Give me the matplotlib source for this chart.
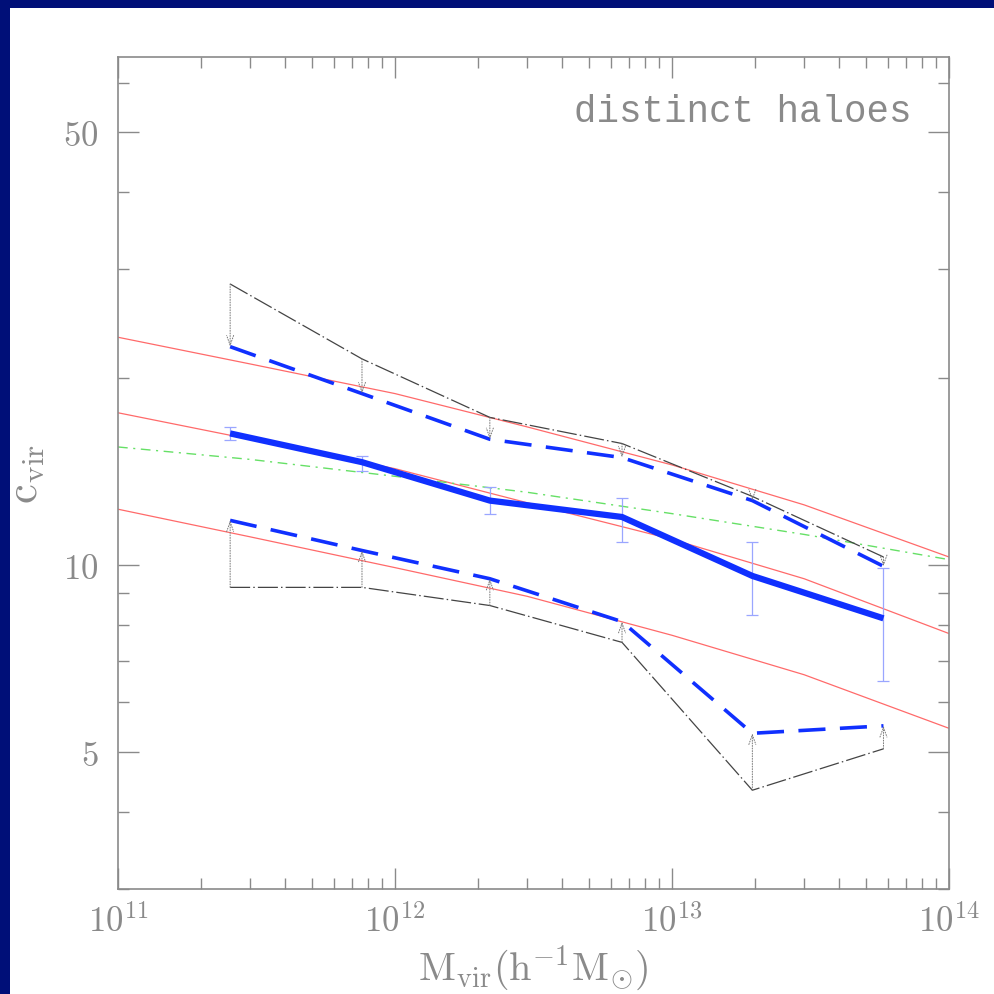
import matplotlib
matplotlib.use("Agg")
import matplotlib.pyplot as plt
from matplotlib.patches import Rectangle
from matplotlib.ticker import FixedLocator, NullFormatter, FixedFormatter

# simulation bins
mass = [2.54e11, 7.6e11, 2.2e12, 6.6e12, 1.95e13, 5.8e13]
c_median = [16.3, 14.65, 12.7, 11.95, 9.6, 8.2]
err_hi = [16.7, 15.0, 13.35, 12.8, 10.9, 9.9]
err_lo = [15.9, 14.2, 12.1, 10.9, 8.3, 6.5]
c_up_blue = [22.5, 18.9, 15.95, 14.9, 12.7, 9.95]
c_up_black = [28.4, 21.5, 17.3, 15.7, 12.9, 10.3]
c_lo_blue = [11.8, 10.55, 9.5, 8.1, 5.35, 5.5]
c_lo_black = [9.2, 9.2, 8.6, 7.5, 4.33, 5.05]

# model curves
model_mass = [1e11, 3e11, 1e12, 3e12, 1e13, 3e13, 1e14]
model_hi = [23.3, 21.1, 18.9, 16.7, 14.5, 12.5, 10.3]
model_med = [17.6, 15.95, 14.3, 12.6, 11.0, 9.5, 7.75]
model_lo = [12.3, 11.1, 9.9, 8.9, 7.7, 6.65, 5.45]
model_green = [15.5, 14.8, 13.9, 13.1, 12.1, 11.2, 10.2]

xtick_labels = [r'$10^{11}$', r'$10^{12}$', r'$10^{13}$', r'$10^{14}$']
ytick_labels = [r'$5$', r'$10$', r'$50$']

plt.rcParams['mathtext.fontset'] = 'cm'
plt.rcParams['font.family'] = ['DejaVu Serif']

gray = '#8a8a8a'
fig = plt.figure(figsize=(9.94, 9.95), dpi=100, facecolor='#000f78')
fig.patches.append(Rectangle((10 / 994, 0), 1, 1 - 9 / 995, transform=fig.transFigure,
                             facecolor='white', edgecolor='none', zorder=-10))
ax = fig.add_axes([118 / 994, 105 / 995, 831 / 994, 832 / 995])

ax.plot(model_mass, model_hi, color='#ff6a6a', lw=0.9)
ax.plot(model_mass, model_med, color='#ff6a6a', lw=0.9)
ax.plot(model_mass, model_lo, color='#ff6a6a', lw=0.9)
ax.plot(model_mass, model_green, color='#66e066', lw=1.0, dashes=(7, 4, 1.5, 4))

ax.plot(mass, c_up_black, color='#444444', lw=0.9, dashes=(16, 2.5, 1.2, 2.5))
ax.plot(mass, c_lo_black, color='#444444', lw=0.9, dashes=(16, 2.5, 1.2, 2.5))
ax.plot(mass, c_up_blue, color='#1030ff', lw=2.6, dashes=(7.5, 4))
ax.plot(mass, c_lo_blue, color='#1030ff', lw=2.6, dashes=(7.5, 4))

yerr = [[m - lo for m, lo in zip(c_median, err_lo)], [hi - m for m, hi in zip(c_median, err_hi)]]
ax.errorbar(mass, c_median, yerr=yerr, fmt='none', ecolor='#9aa6ff', elinewidth=0.9,
            capsize=4, capthick=0.9)
ax.plot(mass, c_median, color='#1030ff', lw=4.5, solid_capstyle='butt')

for m, a, b in zip(mass, c_up_black, c_up_blue):
    ax.annotate('', xy=(m, b), xytext=(m, a),
                arrowprops=dict(arrowstyle='->,head_length=0.7,head_width=0.25',
                                linestyle=':', color='#777777', lw=0.7, shrinkA=0, shrinkB=0))
for m, a, b in zip(mass, c_lo_black, c_lo_blue):
    ax.annotate('', xy=(m, b), xytext=(m, a),
                arrowprops=dict(arrowstyle='->,head_length=0.7,head_width=0.25',
                                linestyle=':', color='#777777', lw=0.7, shrinkA=0, shrinkB=0))

ax.set_xscale('log')
ax.set_yscale('log')
ax.set_xlim(1e11, 1e14)
ax.set_ylim(3.0, 66)

ax.xaxis.set_major_locator(FixedLocator([1e11, 1e12, 1e13, 1e14]))
ax.xaxis.set_major_formatter(FixedFormatter(xtick_labels))
ax.xaxis.set_minor_locator(FixedLocator([k * 10.0 ** e for e in (11, 12, 13) for k in range(2, 10)]))
ax.xaxis.set_minor_formatter(NullFormatter())
ax.yaxis.set_major_locator(FixedLocator([5, 10, 50]))
ax.yaxis.set_major_formatter(FixedFormatter(ytick_labels))
ax.yaxis.set_minor_locator(FixedLocator([3, 4, 6, 7, 8, 9, 20, 30, 40, 60]))
ax.yaxis.set_minor_formatter(NullFormatter())

ax.tick_params(which='both', direction='in', top=True, right=True, color=gray, width=1.0)
ax.tick_params(which='major', length=15, labelsize=25, labelcolor=gray, pad=14)
ax.tick_params(which='minor', length=8)
ax.tick_params(axis='x', which='major', pad=10)
for s in ax.spines.values():
    s.set_color(gray)
    s.set_linewidth(1.2)

ax.set_xlabel(r'$\mathrm{M_{vir}(h^{-1}M_{\odot})}$', fontsize=29, color=gray, labelpad=4)
ax.set_ylabel(r'$\mathrm{c_{vir}}$', fontsize=32, color=gray, labelpad=12)
ax.text(0.955, 0.935, 'distinct haloes', transform=ax.transAxes, ha='right', va='center',
        family='Liberation Mono', fontsize=27, color=gray)

fig.savefig('out.png', dpi=100, facecolor=fig.get_facecolor())
